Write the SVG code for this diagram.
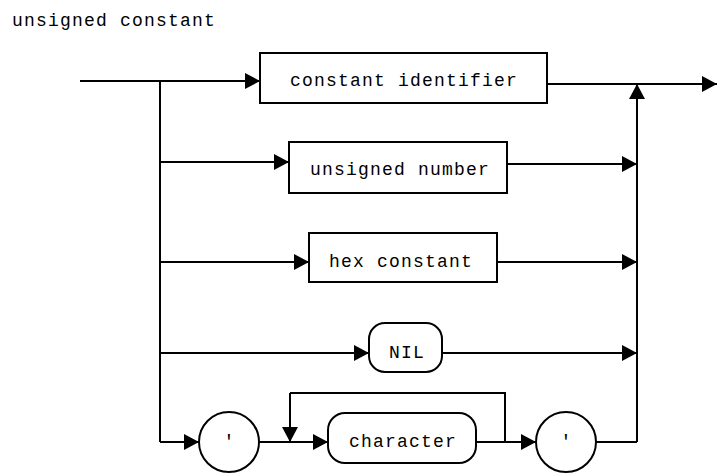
<svg xmlns="http://www.w3.org/2000/svg" width="717" height="473" viewBox="0 0 717 473">
  <defs>
    <marker id="arrow" markerUnits="userSpaceOnUse" markerWidth="16" markerHeight="16" refX="15" refY="8" orient="auto">
      <path d="M0,0 L15,8 L0,16 z" fill="#000"/>
    </marker>
    <style>
      .box { fill: #fff; stroke: #000; stroke-width: 2; }
      .line { fill: none; stroke: #000; stroke-width: 2; }
      .arr { marker-end: url(#arrow); }
      text { font-family: "Liberation Mono", "Courier New", monospace; font-size: 18px; letter-spacing: 1.2px; fill: #000; }
      .mid { text-anchor: middle; letter-spacing: 0; }
    </style>
  </defs>

  <rect width="717" height="473" fill="#fff"/>

  <text x="12" y="26">unsigned constant</text>

  <!-- connectors -->
  <g id="connectors">
    <!-- entry and left branch bus -->
    <path class="line" d="M80,81 H160"/>
    <path class="line" d="M160,81 V442"/>
    <path class="line arr" d="M160,81 H260"/>
    <path class="line arr" d="M160,162 H289"/>
    <path class="line arr" d="M160,262 H309"/>
    <path class="line arr" d="M160,353 H369"/>
    <path class="line arr" d="M160,442 H199"/>

    <!-- outputs to right collector -->
    <path class="line" d="M547,84 H637"/>
    <path class="line arr" d="M637,84 H717"/>
    <path class="line arr" d="M507,164 H637"/>
    <path class="line arr" d="M497,262 H637"/>
    <path class="line arr" d="M442,353 H637"/>
    <path class="line arr" d="M637,442 V84"/>
    <path class="line" d="M596,442 H637"/>

    <!-- character string path with repeat loop -->
    <path class="line arr" d="M259,442 H328"/>
    <path class="line" d="M476,442 H505 V393 H290"/>
    <path class="line arr" d="M290,393 V442"/>
    <path class="line arr" d="M505,442 H536"/>
  </g>

  <g id="constant-identifier">
    <rect class="box" x="260" y="53" width="287" height="50"/>
    <text x="290" y="86">constant identifier</text>
  </g>

  <g id="unsigned-number">
    <rect class="box" x="289" y="142" width="218" height="51"/>
    <text x="310" y="175">unsigned number</text>
  </g>

  <g id="hex-constant">
    <rect class="box" x="309" y="233" width="188" height="49"/>
    <text x="329" y="267">hex constant</text>
  </g>

  <g id="nil">
    <rect class="box" x="369" y="323" width="73" height="49" rx="16" ry="16"/>
    <text x="389" y="358">NIL</text>
  </g>

  <g id="open-quote">
    <circle class="box" cx="229" cy="442" r="30"/>
    <text class="mid" x="229" y="447">'</text>
  </g>

  <g id="character">
    <rect class="box" x="328" y="413" width="148" height="50" rx="17" ry="17"/>
    <text x="349" y="447">character</text>
  </g>

  <g id="close-quote">
    <circle class="box" cx="566" cy="442" r="30"/>
    <text class="mid" x="566" y="447">'</text>
  </g>
</svg>
